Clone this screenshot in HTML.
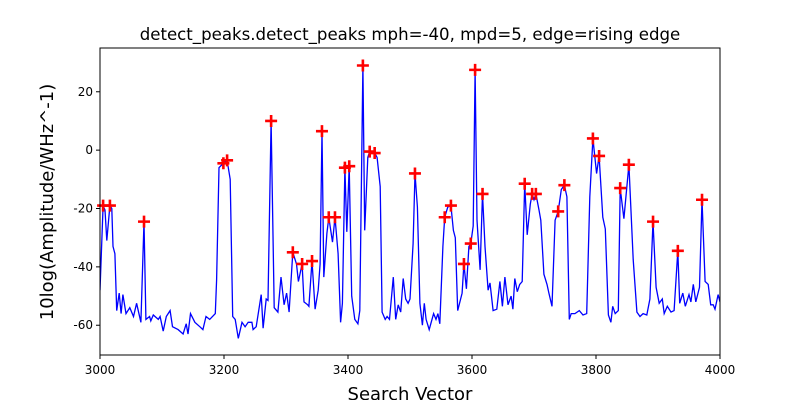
<!DOCTYPE html>
<html><head><meta charset="utf-8"><style>
body{margin:0;background:#fff}
svg text{font-family:"DejaVu Sans","Liberation Sans",sans-serif}
</style></head><body>
<svg id="chart" width="800" height="400" xmlns="http://www.w3.org/2000/svg">
<rect width="800" height="400" fill="#fff"/>
<text x="410" y="40" font-size="16.6" text-anchor="middle">detect_peaks.detect_peaks mph=-40, mpd=5, edge=rising edge</text>
<g id="plot"></g>
<text x="410" y="400" font-size="18" text-anchor="middle">Search Vector</text>
<text transform="translate(53,202) rotate(-90)" font-size="18" text-anchor="middle">10log(Amplitude/WHz^-1)</text>
</svg>
<script>
const xTicks=[3000,3200,3400,3600,3800,4000];
const yTicks=[20,0,-20,-40,-60];
const signalX=[3000,3005,3008,3011,3016,3019,3021,3024,3027,3031,3034,3037,3042,3048,3054,3059,3066,3071,3074,3080,3082,3086,3094,3097,3102,3107,3113,3117,3126,3134,3139,3142,3146,3153,3161,3166,3171,3177,3186,3188,3192,3199,3205,3210,3214,3218,3223,3229,3234,3239,3245,3247,3252,3260,3263,3268,3271,3276,3281,3287,3292,3297,3301,3305,3311,3317,3320,3326,3329,3335,3337,3342,3347,3352,3355,3358,3361,3366,3369,3375,3379,3384,3388,3391,3395,3398,3402,3406,3411,3416,3419,3424,3427,3432,3435,3443,3447,3452,3455,3460,3463,3467,3473,3477,3481,3485,3489,3493,3497,3500,3505,3508,3512,3516,3520,3523,3526,3531,3538,3542,3545,3548,3553,3556,3561,3566,3570,3573,3577,3584,3587,3591,3595,3598,3602,3605,3608,3613,3617,3621,3626,3629,3634,3640,3645,3649,3653,3658,3663,3666,3669,3673,3677,3681,3685,3689,3694,3697,3700,3703,3708,3711,3716,3721,3724,3729,3734,3739,3744,3749,3753,3757,3760,3766,3773,3779,3785,3790,3795,3801,3805,3811,3815,3820,3824,3827,3831,3836,3839,3845,3853,3860,3866,3871,3876,3882,3887,3892,3897,3902,3907,3910,3915,3921,3926,3932,3935,3940,3944,3950,3953,3957,3961,3967,3971,3976,3981,3985,3989,3992,3997,4000];
const signalY=[-48,-19,-20.5,-31,-19,-20,-33,-35.5,-55,-49,-56,-49.5,-56,-54,-57,-52.5,-59,-24.5,-58,-57,-58.5,-56.5,-58,-57,-62,-57,-55,-60.5,-61.5,-63,-59.5,-63,-56,-59,-60.5,-61.5,-57,-58,-56,-44.5,-6,-4.5,-3.5,-10,-57,-58,-64.5,-59,-60.5,-59,-59,-61.5,-60.5,-49.5,-61,-51,-51.5,10,-54,-55.5,-43.5,-53,-49,-55.5,-35,-39,-45,-39,-52,-53,-53.5,-38,-54.5,-48,-39,6.5,-43.5,-28.5,-23,-31.5,-23,-35.5,-59,-52.5,-6,-28,-5.5,-50,-58,-59.5,-55,29,-27.5,-2.5,-0.5,-1,-2.5,-12.5,-55.5,-58,-57,-58,-43.5,-58,-53,-55.5,-44,-51,-52.5,-51,-32,-8,-19.5,-52.5,-60,-52.5,-58,-61.5,-56,-58,-56,-59.5,-33,-23,-19.5,-19,-27.5,-30,-55,-49,-39,-47.5,-33,-32,-26,27.5,-24,-41,-15,-33,-48,-45.5,-55,-54.5,-45,-53.5,-43.5,-53,-50,-54.5,-44,-48.5,-46,-45,-11.5,-29,-18.5,-15,-17,-15,-20.5,-24,-42.5,-46,-49,-53.5,-24,-21,-13.5,-12,-16,-58,-56,-56,-55,-56.5,-56,-16,4,-8,-2,-23,-27,-56.5,-59,-53.5,-56,-55,-13,-23.5,-5,-37.5,-55.5,-57,-56,-56.5,-51,-24.5,-47,-52.5,-51,-56,-53.5,-55.5,-55,-34.5,-52.5,-49,-53.5,-49.5,-52,-46,-52,-47,-17,-45,-46,-53,-53,-54.5,-49.5,-52];
const peakX=[3005,3016,3071,3199,3205,3276,3311,3326,3342,3358,3369,3379,3395,3402,3424,3435,3443,3508,3556,3566,3587,3598,3605,3617,3685,3697,3703,3739,3749,3795,3805,3839,3853,3892,3932,3971];
const peakY=[-19,-19,-24.5,-4.5,-3.5,10,-35,-39,-38,6.5,-23,-23,-6,-5.5,29,-0.5,-1,-8,-23,-19,-39,-32,27.5,-15,-11.5,-15,-15,-21,-12,4,-2,-13,-5,-24.5,-34.5,-17];

const L=100,R=720,T=48,B=355;
const xMin=3000,xMax=4000,yMin=-70.2,yMax=35;
const sx=v=>L+(v-xMin)/(xMax-xMin)*(R-L);
const sy=v=>B-(v-yMin)/(yMax-yMin)*(B-T);
const NS="http://www.w3.org/2000/svg";
const g=document.getElementById('plot');
function mk(t,a){const e=document.createElementNS(NS,t);for(const k in a)e.setAttribute(k,a[k]);g.appendChild(e);return e;}

const cp=document.createElementNS(NS,'clipPath');cp.setAttribute('id','cl');
const cr=document.createElementNS(NS,'rect');cr.setAttribute('x',L);cr.setAttribute('y',T);cr.setAttribute('width',R-L);cr.setAttribute('height',B-T);cp.appendChild(cr);g.appendChild(cp);

let d='';
for(let i=0;i<signalX.length;i++){d+=(i?'L':'M')+sx(signalX[i]).toFixed(1)+' '+sy(signalY[i]).toFixed(1);}
const line=mk('path',{d:d,fill:'none',stroke:'#0000ff','stroke-width':1.3,'clip-path':'url(#cl)'});



for(let i=0;i<peakX.length;i++){
  const x=sx(peakX[i]),y=sy(peakY[i]);
  const p=mk('path',{d:`M${x-6} ${y}H${x+6}M${x} ${y-6}V${y+6}`,stroke:'#ff0000','stroke-width':2.6,fill:'none'});
  
  
}

const frame=mk('rect',{x:L,y:T,width:R-L,height:B-T,fill:'none',stroke:'#000','stroke-width':1});



xTicks.forEach(v=>{
  const x=sx(v);
  const t=mk('line',{x1:x,x2:x,y1:B,y2:B+4,stroke:'#000'});
  
  
  const l=mk('text',{x:x,y:B+19,'font-size':12,'text-anchor':'middle'});
  l.textContent=v;
  
  
});
yTicks.forEach(v=>{
  const y=sy(v);
  const t=mk('line',{x1:L-4,x2:L,y1:y,y2:y,stroke:'#000'});
  
  
  const l=mk('text',{x:L-7,y:y+4,'font-size':12,'text-anchor':'end'});
  l.textContent=v;
  
  
});
</script>
</body></html>
